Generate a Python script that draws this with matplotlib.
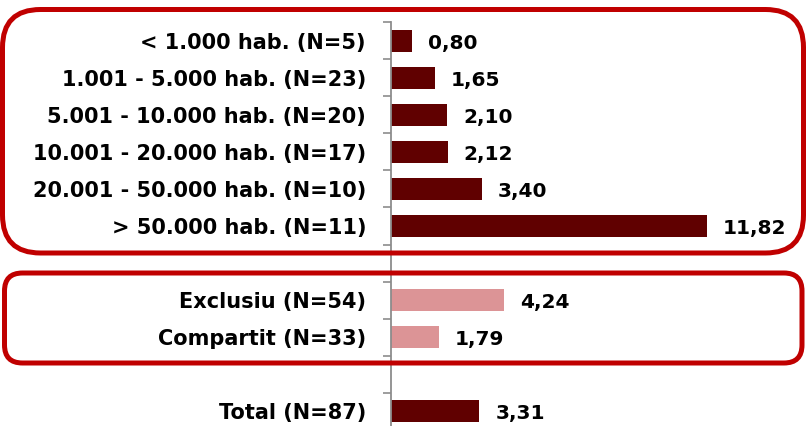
import matplotlib
matplotlib.use("Agg")
import matplotlib.pyplot as plt
from matplotlib.patches import FancyBboxPatch
from matplotlib.transforms import IdentityTransform

plt.rcParams['font.family'] = ['DejaVu Sans']

# ---- data ----
size_labels = ["< 1.000 hab. (N=5)", "1.001 - 5.000 hab. (N=23)", "5.001 - 10.000 hab. (N=20)",
               "10.001 - 20.000 hab. (N=17)", "20.001 - 50.000 hab. (N=10)", "> 50.000 hab. (N=11)"]
size_values = [0.80, 1.65, 2.10, 2.12, 3.40, 11.82]
type_labels = ["Exclusiu (N=54)", "Compartit (N=33)"]
type_values = [4.24, 1.79]
total_labels = ["Total (N=87)"]
total_values = [3.31]

dark = "#600000"
pink = "#DC9496"
boxred = "#C00000"

W, H = 806, 426
fig = plt.figure(figsize=(W / 100, H / 100), dpi=100)
ax = fig.add_axes([391 / W, -3.5 / H, (W - 391) / W, 407 / H])

# slot layout: group rows separated by one empty slot
size_pos = [i + 0.5 for i in range(len(size_labels))]
type_pos = [len(size_labels) + 1 + i + 0.5 for i in range(len(type_labels))]
total_pos = [len(size_labels) + 1 + len(type_labels) + 1 + i + 0.5 for i in range(len(total_labels))]
nslots = len(size_labels) + 1 + len(type_labels) + 1 + len(total_labels)

bh = 0.57
ax.barh(size_pos, size_values, height=bh, color=dark)
ax.barh(type_pos, type_values, height=bh, color=pink)
ax.barh(total_pos, total_values, height=bh, color=dark)

ax.set_ylim(nslots, 0)
ax.set_xlim(0, (W - 391) / 26.73)

allpos = size_pos + type_pos + total_pos
alllab = size_labels + type_labels + total_labels
allval = size_values + type_values + total_values
ax.set_yticks(allpos)
ax.set_yticklabels(alllab, fontsize=15, fontweight='bold')
ax.set_yticks(range(nslots + 1), minor=True)
ax.tick_params(axis='y', which='major', length=0, pad=18)
ax.tick_params(axis='y', which='minor', length=6, width=1.2, color='#8c8c8c', direction='out')
ax.set_xticks([])
for s in ['top', 'right', 'bottom']:
    ax.spines[s].set_visible(False)
ax.spines['left'].set_color('#8c8c8c')
ax.spines['left'].set_linewidth(1.3)

for p, v in zip(allpos, allval):
    ax.annotate(f"{v:.2f}".replace('.', ','), (v, p), xytext=(11.5, -1.5),
                textcoords='offset points', va='center', ha='left',
                fontsize=14.5, fontweight='bold', color='black')

# rounded group frames (display pixel coords derived from data slots)
fig.canvas.draw()
def ypix(yd):
    return ax.transData.transform((0, yd))[1]

def frame(y_top_data, y_bot_data, pad_top, pad_bot, x0, x1, r):
    top = ypix(y_top_data) + pad_top
    bot = ypix(y_bot_data) - pad_bot
    p = FancyBboxPatch((x0, bot), x1 - x0, top - bot,
                       boxstyle=f"round,pad=0,rounding_size={r}",
                       transform=IdentityTransform(), fill=False,
                       edgecolor=boxred, linewidth=3.6, clip_on=False)
    fig.add_artist(p)

frame(0, len(size_labels), 13, 8.5, 2.5, 803.5, 38)
frame(len(size_labels) + 1, len(size_labels) + 1 + len(type_labels), 8.5, 7.5, 4.5, 802, 18)

fig.savefig("out.png", dpi=100)
